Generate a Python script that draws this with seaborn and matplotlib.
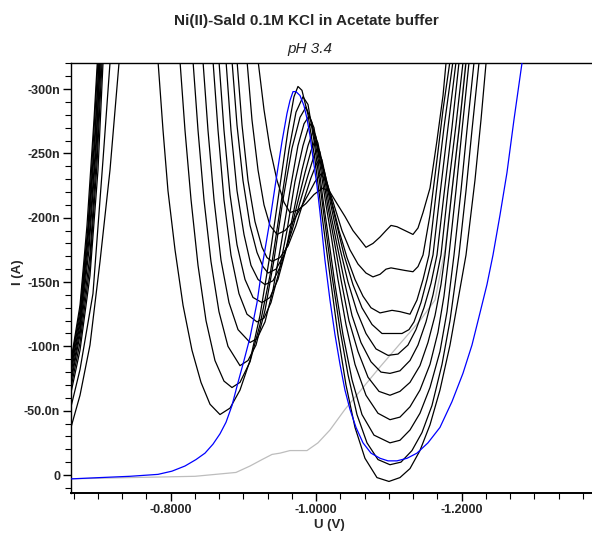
import numpy as np
import pandas as pd
import matplotlib
matplotlib.use("Agg")
import matplotlib.pyplot as plt
import seaborn as sns
from matplotlib.ticker import MultipleLocator, FuncFormatter, FixedLocator
from matplotlib import font_manager

# ---------------- data (U in V, I in nA) ----------------
k0_v = [-0.6599, -0.6631, -0.6755, -0.6892, -0.7030, -0.7167, -0.7298, -0.7559, -0.7823, -0.7896, -0.7964, -0.8061, -0.8171, -0.8294, -0.8418, -0.8542, -0.8679, -0.8817, -0.8954, -0.9092, -0.9229, -0.9366, -0.9504, -0.9614, -0.9696, -0.9751, -0.9806, -0.9889, -0.9985, -1.0081, -1.0191, -1.0301, -1.0411, -1.0535, -1.0672, -1.0837, -1.1002, -1.1153, -1.1291, -1.1428, -1.1566, -1.1703, -1.1841, -1.1951, -1.2061, -1.2184, -1.2267, -1.2344]
k0_i = [-31, -37, -62, -101, -166, -237, -325, -900, -325, -268, -221, -175, -132, -97, -72, -55, -47, -52, -66, -89, -124, -171, -225, -268, -294, -302, -299, -280, -245, -202, -155, -109, -70, -37, -13, 2, 5, 2, -5, -19, -39, -66, -101, -136, -171, -229, -276, -325]

k1_v = [-0.6599, -0.6631, -0.6755, -0.6933, -0.7071, -0.7173, -0.7648, -0.8125, -0.8198, -0.8281, -0.8377, -0.8487, -0.8610, -0.8734, -0.8844, -0.8954, -0.9092, -0.9229, -0.9366, -0.9504, -0.9628, -0.9724, -0.9820, -0.9889, -0.9971, -1.0054, -1.0122, -1.0219, -1.0329, -1.0439, -1.0562, -1.0700, -1.0851, -1.1016, -1.1167, -1.1318, -1.1456, -1.1593, -1.1731, -1.1841, -1.1909, -1.1964, -1.2061, -1.2143, -1.2248]
k1_i = [-48, -53, -82, -141, -245, -325, -900, -325, -268, -214, -163, -120, -89, -73, -68, -72, -88, -117, -155, -206, -253, -282, -294, -288, -260, -225, -196, -155, -113, -78, -47, -25, -12, -8, -10, -19, -33, -54, -86, -120, -148, -171, -221, -268, -325]

k2_v = [-0.6599, -0.6631, -0.6755, -0.6892, -0.7002, -0.7075, -0.7689, -0.8304, -0.8377, -0.8459, -0.8555, -0.8665, -0.8789, -0.8954, -0.9064, -0.9174, -0.9298, -0.9421, -0.9545, -0.9669, -0.9779, -0.9861, -0.9944, -1.0026, -1.0095, -1.0164, -1.0260, -1.0370, -1.0494, -1.0631, -1.0796, -1.1016, -1.1153, -1.1291, -1.1428, -1.1566, -1.1703, -1.1800, -1.1896, -1.1992, -1.2074, -1.2179]
k2_i = [-58, -64, -97, -155, -237, -325, -900, -325, -268, -214, -166, -127, -100, -85, -89, -101, -128, -167, -214, -254, -278, -286, -274, -245, -214, -187, -148, -109, -74, -47, -31, -25, -27, -35, -48, -68, -96, -127, -171, -221, -268, -325]

k3_v = [-0.6599, -0.6631, -0.6755, -0.6892, -0.6988, -0.7061, -0.7751, -0.8441, -0.8514, -0.8597, -0.8693, -0.8803, -0.8927, -0.9092, -0.9188, -0.9298, -0.9408, -0.9518, -0.9641, -0.9751, -0.9834, -0.9902, -0.9971, -1.0054, -1.0136, -1.0205, -1.0301, -1.0411, -1.0535, -1.0686, -1.0851, -1.1016, -1.1153, -1.1291, -1.1428, -1.1566, -1.1676, -1.1758, -1.1827, -1.1923, -1.2006, -1.2110]
k3_i = [-62, -68, -103, -163, -241, -325, -900, -325, -268, -214, -167, -134, -113, -103, -106, -119, -144, -179, -221, -256, -273, -279, -270, -241, -210, -187, -152, -117, -86, -62, -48, -43, -45, -53, -66, -86, -111, -139, -171, -221, -268, -325]

k4_v = [-0.6599, -0.6631, -0.6755, -0.6892, -0.6988, -0.7048, -0.7813, -0.8579, -0.8652, -0.8734, -0.8830, -0.8940, -0.9050, -0.9188, -0.9284, -0.9380, -0.9490, -0.9600, -0.9710, -0.9820, -0.9889, -0.9930, -0.9999, -1.0081, -1.0164, -1.0246, -1.0342, -1.0452, -1.0576, -1.0714, -1.0865, -1.1016, -1.1153, -1.1291, -1.1428, -1.1538, -1.1635, -1.1717, -1.1772, -1.1868, -1.1964, -1.2069]
k4_i = [-66, -72, -109, -171, -253, -325, -900, -325, -268, -214, -171, -141, -125, -119, -122, -134, -158, -190, -228, -256, -269, -273, -263, -237, -208, -183, -152, -120, -96, -76, -65, -62, -65, -72, -85, -103, -124, -148, -171, -221, -268, -325]

k5_v = [-0.6599, -0.6631, -0.6755, -0.6878, -0.6975, -0.7034, -0.7848, -0.8661, -0.8734, -0.8817, -0.8913, -0.9023, -0.9133, -0.9257, -0.9366, -0.9476, -0.9586, -0.9696, -0.9806, -0.9889, -0.9957, -1.0026, -1.0109, -1.0191, -1.0287, -1.0384, -1.0494, -1.0617, -1.0755, -1.0892, -1.1016, -1.1153, -1.1291, -1.1401, -1.1511, -1.1607, -1.1717, -1.1813, -1.1923, -1.2028]
k5_i = [-70, -75, -113, -175, -253, -325, -900, -325, -268, -218, -179, -152, -138, -134, -138, -152, -175, -206, -237, -256, -267, -258, -233, -206, -179, -152, -124, -103, -88, -80, -79, -81, -89, -101, -119, -140, -171, -221, -272, -325]

k6_v = [-0.6599, -0.6631, -0.6755, -0.6878, -0.6975, -0.7034, -0.7896, -0.8758, -0.8830, -0.8913, -0.9009, -0.9105, -0.9202, -0.9298, -0.9408, -0.9518, -0.9628, -0.9738, -0.9848, -0.9930, -0.9985, -1.0054, -1.0136, -1.0232, -1.0329, -1.0439, -1.0562, -1.0686, -1.0824, -1.0989, -1.1126, -1.1263, -1.1373, -1.1483, -1.1580, -1.1662, -1.1758, -1.1868, -1.1973]
k6_i = [-73, -79, -117, -183, -260, -325, -900, -325, -268, -221, -187, -163, -152, -148, -151, -163, -184, -210, -235, -252, -260, -251, -228, -202, -176, -150, -127, -110, -98, -93, -94, -101, -113, -130, -149, -171, -218, -270, -325]

k7_v = [-0.6599, -0.6631, -0.6755, -0.6865, -0.6961, -0.7020, -0.7930, -0.8840, -0.8913, -0.8995, -0.9092, -0.9188, -0.9270, -0.9339, -0.9449, -0.9559, -0.9669, -0.9779, -0.9889, -0.9971, -1.0012, -1.0081, -1.0164, -1.0274, -1.0384, -1.0507, -1.0631, -1.0769, -1.0906, -1.1044, -1.1181, -1.1277, -1.1346, -1.1442, -1.1525, -1.1607, -1.1703, -1.1813, -1.1932]
k7_i = [-76, -82, -120, -183, -260, -325, -900, -325, -272, -229, -194, -173, -162, -157, -160, -171, -190, -212, -233, -248, -253, -245, -223, -197, -171, -148, -130, -117, -110, -110, -110, -113, -119, -134, -152, -171, -218, -270, -325]

k8_v = [-0.6599, -0.6631, -0.6755, -0.6865, -0.6961, -0.7020, -0.7964, -0.8909, -0.8982, -0.9064, -0.9160, -0.9257, -0.9325, -0.9394, -0.9504, -0.9614, -0.9724, -0.9834, -0.9930, -0.9999, -1.0040, -1.0109, -1.0205, -1.0315, -1.0425, -1.0535, -1.0645, -1.0755, -1.0879, -1.0961, -1.1044, -1.1153, -1.1291, -1.1387, -1.1470, -1.1552, -1.1648, -1.1758, -1.1890]
k8_i = [-79, -85, -124, -189, -267, -325, -900, -325, -272, -229, -197, -177, -169, -166, -169, -178, -194, -214, -231, -241, -245, -237, -215, -190, -169, -152, -139, -130, -126, -127, -128, -127, -125, -136, -152, -171, -218, -270, -325]

k9_v = [-0.6599, -0.6631, -0.6755, -0.6865, -0.6947, -0.7006, -0.8026, -0.9046, -0.9119, -0.9202, -0.9284, -0.9366, -0.9463, -0.9573, -0.9683, -0.9793, -0.9902, -0.9985, -1.0067, -1.0150, -1.0246, -1.0356, -1.0466, -1.0576, -1.0686, -1.0782, -1.0879, -1.0961, -1.1030, -1.1126, -1.1222, -1.1332, -1.1401, -1.1470, -1.1566, -1.1662, -1.1745, -1.1849]
k9_i = [-82, -87, -128, -194, -268, -325, -900, -325, -276, -237, -210, -194, -187, -190, -197, -208, -219, -228, -234, -227, -210, -190, -175, -164, -157, -154, -156, -160, -161, -160, -159, -158, -162, -171, -202, -245, -284, -325]

k10_v = [-0.6599, -0.6631, -0.6755, -0.6851, -0.6947, -0.6997, -0.8102, -0.9196, -0.9284, -0.9366, -0.9463, -0.9559, -0.9641, -0.9751, -0.9861, -0.9971, -1.0040, -1.0095, -1.0191, -1.0287, -1.0397, -1.0507, -1.0604, -1.0686, -1.0782, -1.0879, -1.0961, -1.1030, -1.1112, -1.1222, -1.1332, -1.1401, -1.1470, -1.1566, -1.1662, -1.1745, -1.1794]
k10_i = [-84, -89, -132, -194, -276, -325, -900, -325, -284, -254, -229, -212, -204, -206, -211, -218, -221, -223, -220, -211, -201, -190, -183, -177, -180, -185, -190, -194, -193, -190, -187, -192, -204, -223, -260, -295, -325]

blue_v = [-0.6535, -0.6631, -0.7030, -0.7442, -0.7827, -0.8019, -0.8198, -0.8349, -0.8473, -0.8583, -0.8679, -0.8762, -0.8844, -0.8927, -0.9009, -0.9092, -0.9188, -0.9270, -0.9366, -0.9449, -0.9531, -0.9600, -0.9641, -0.9683, -0.9724, -0.9779, -0.9834, -0.9875, -0.9916, -0.9957, -1.0012, -1.0054, -1.0122, -1.0191, -1.0260, -1.0329, -1.0397, -1.0466, -1.0549, -1.0645, -1.0755, -1.0879, -1.0989, -1.1112, -1.1250, -1.1387, -1.1538, -1.1703, -1.1868, -1.2019, -1.2143, -1.2253, -1.2349, -1.2432, -1.2528, -1.2624, -1.2720, -1.2830, -1.2844]
blue_i = [3, 3, 2, 1, -0.5, -3, -7, -12, -17, -24, -32, -41, -54, -72, -89, -107, -134, -166, -198, -229, -259, -281, -291, -298, -298, -295, -287, -277, -264, -247, -225, -204, -167, -136, -109, -86, -66, -51, -37, -25, -17, -13, -11, -11, -13, -17, -25, -37, -57, -79, -101, -126, -148, -171, -202, -235, -276, -320, -326]

grey_v = [-0.6535, -0.6631, -0.7442, -0.8336, -0.8899, -0.9092, -0.9257, -0.9394, -0.9504, -0.9641, -0.9875, -1.0026, -1.0191, -1.0397, -1.0645, -1.0879, -1.1153, -1.1428, -1.1635, -1.1772, -1.1868, -1.1978, -1.2061]
grey_i = [3, 3, 2, 1, -2, -7, -12, -16, -17, -19, -19, -25, -35, -51, -68, -84, -102, -120, -136, -175, -221, -276, -325]

x_major = [-0.8, -1.0, -1.2]
y_major = [0, -50, -100, -150, -200, -250, -300]

TITLE = "Ni(II)-Sald 0.1M KCl in Acetate buffer"
SUBTITLE = "pH 3.4"
XLABEL = "U (V)"
YLABEL = "I (A)"

# ---------------- style ----------------
sns.set_theme(style="ticks")
names = {f.name for f in font_manager.fontManager.ttflist}
narrow = "Liberation Sans Narrow" in names
if narrow:
    plt.rcParams["font.family"] = ["Liberation Sans Narrow", "Liberation Sans", "DejaVu Sans"]
    fs_tick, fs_title, fs_sub, fs_lab = 10, 13, 12.5, 10.5
else:
    plt.rcParams["font.family"] = ["Liberation Sans", "DejaVu Sans"]
    fs_tick, fs_title, fs_sub, fs_lab = 9, 11, 11, 9.5

fig = plt.figure(figsize=(5.92, 5.33), dpi=100)
ax = fig.add_axes([0.1203, 0.075, 0.8797, 0.8062])

blacks = [(k0_v, k0_i), (k1_v, k1_i), (k2_v, k2_i), (k3_v, k3_i), (k4_v, k4_i),
          (k5_v, k5_i), (k6_v, k6_i), (k7_v, k7_i), (k8_v, k8_i), (k9_v, k9_i),
          (k10_v, k10_i)]

def draw(v, i, color, lw, z):
    assert len(v) == len(i), (len(v), len(i))
    df = pd.DataFrame({"U": v, "I": i})
    sns.lineplot(data=df, x="U", y="I", sort=False, estimator=None,
                 color=color, lw=lw, ax=ax, zorder=z)

draw(grey_v, grey_i, "#bdbdbd", 0.9, 1)
for v, i in blacks:
    draw(v, i, "black", 0.9, 2)
draw(blue_v, blue_i, "#0000ff", 0.9, 3)

ax.set_xlim(-0.6634, -1.3793)
ax.set_ylim(14, -320)

ax.xaxis.set_major_locator(FixedLocator(x_major))
ax.xaxis.set_minor_locator(MultipleLocator(0.2 / 6))
ax.yaxis.set_major_locator(FixedLocator(y_major))
ax.yaxis.set_minor_locator(MultipleLocator(10))

def yfmt(v, p):
    if abs(v) < 1e-9:
        return "0"
    if abs(v) >= 100:
        return f"{v:.0f}n"
    return f"{v:.1f}n"

ax.xaxis.set_major_formatter(FuncFormatter(lambda v, p: f"{v:.4f}"))
ax.yaxis.set_major_formatter(FuncFormatter(yfmt))

ax.tick_params(axis="both", which="major", direction="out", length=6, width=1,
               color="black", labelsize=fs_tick, pad=2)
ax.tick_params(axis="both", which="minor", direction="out", length=4, width=0.8,
               color="black")
for lab in ax.get_xticklabels() + ax.get_yticklabels():
    lab.set_fontweight("bold")

ax.spines["right"].set_visible(False)
for s in ["left", "bottom", "top"]:
    ax.spines[s].set_color("black")
    ax.spines[s].set_linewidth(1.0)
ax.spines["bottom"].set_linewidth(1.4)

ax.set_xlabel("")
ax.set_ylabel("")
fig.text(0.031, 0.49, YLABEL, rotation=90, ha="center", va="center",
         fontsize=fs_lab, fontweight="bold")
fig.text(0.557, 0.003, XLABEL, ha="center", va="bottom", fontsize=fs_lab, fontweight="bold")
fig.text(0.518, 0.960, TITLE, ha="center", va="center", fontsize=fs_title, fontweight="bold")
fig.text(0.524, 0.909, SUBTITLE, ha="center", va="center", fontsize=fs_sub, style="italic")

fig.savefig("out.png", dpi=100)
